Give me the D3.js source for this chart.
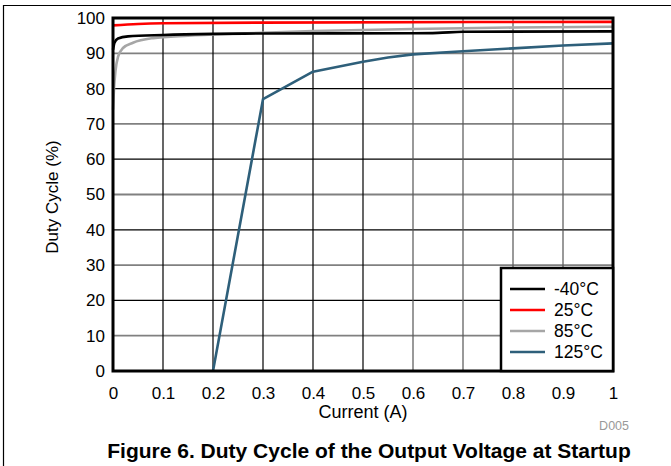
<!DOCTYPE html>
<html><head><meta charset="utf-8">
<script src="https://cdn.jsdelivr.net/npm/d3@7"></script>
<style>body{margin:0;background:#fff}svg{display:block;font-family:"Liberation Sans",Arial,sans-serif}</style>
</head><body>
<svg id="c" width="671" height="466"></svg>
<script>
const xTicks = [0,0.1,0.2,0.3,0.4,0.5,0.6,0.7,0.8,0.9,1];
const yTicks = [0,10,20,30,40,50,60,70,80,90,100];
const seriesNames = ["-40°C","25°C","85°C","125°C"];
const seriesColors = ["#000000","#ff0000","#a6a6a6","#2e5f7a"];
const sM40 = [[0,91],[0.003,93],[0.01,94.2],[0.03,94.8],[0.1,95.2],[0.2,95.5],[0.3,95.6],[0.6,95.7],[0.65,95.8],[0.7,96.1],[1,96.2]];
const s25 = [[0,97.9],[0.05,98.3],[0.1,98.5],[0.3,98.7],[1,98.9]];
const s85 = [[0,74],[0.002,80],[0.005,85],[0.01,89],[0.02,91.5],[0.04,93],[0.08,94.3],[0.15,95.0],[0.25,95.6],[0.4,96.3],[0.6,96.9],[0.8,97.3],[1,97.5]];
const s125 = [[0.2,0],[0.3,77],[0.4,84.8],[0.5,87.6],[0.55,88.8],[0.6,89.7],[0.7,90.6],[0.8,91.4],[0.9,92.2],[1,92.8]];
const allSeries = [sM40,s25,s85,s125];

const svg = d3.select("#c");
const x = d3.scaleLinear().domain([0,1]).range([113,613]);
const y = d3.scaleLinear().domain([0,100]).range([371,18]);
const FF = "Liberation Sans, Arial, sans-serif";

// outer frame lines
svg.append("line").attr("x1",3).attr("x2",671).attr("y1",5.5).attr("y2",5.5).attr("stroke","#000").attr("stroke-width",1.2);
svg.append("line").attr("x1",3.5).attr("x2",3.5).attr("y1",5).attr("y2",466).attr("stroke","#000").attr("stroke-width",1.2);

// grid
svg.append("g").selectAll("line").data(yTicks.slice(1,-1)).join("line")
  .attr("x1",113).attr("x2",613).attr("y1",d=>y(d)).attr("y2",d=>y(d))
  .attr("stroke",d=>(d/10)%2===1?"#808080":"#000").attr("stroke-width",d=>(d/10)%2===1?1.8:1.2);
svg.append("g").selectAll("line").data(xTicks.slice(1,-1)).join("line")
  .attr("y1",18).attr("y2",371).attr("x1",d=>x(d)).attr("x2",d=>x(d))
  .attr("stroke",d=>d>0.55?"#555":"#000").attr("stroke-width",1.2);

// axes labels via d3 axes
const xa = svg.append("g").attr("transform","translate(0,371)")
  .call(d3.axisBottom(x).tickValues(xTicks).tickSize(0).tickPadding(16).tickFormat(d=>d3.format("")(d)));
xa.select(".domain").remove();
xa.selectAll("text").attr("font-size",17).attr("fill","#000").attr("font-family",FF);
const ya = svg.append("g").attr("transform","translate(113,0)")
  .call(d3.axisLeft(y).tickValues(yTicks).tickSize(0).tickPadding(8));
ya.select(".domain").remove();
ya.selectAll("text").attr("font-size",17).attr("fill","#000").attr("font-family",FF);

// lines
const lineSmooth = d3.line().x(d=>x(d[0])).y(d=>y(d[1])).curve(d3.curveMonotoneX);
const lineStraight = d3.line().x(d=>x(d[0])).y(d=>y(d[1]));
const order = [3,2,0,1];
order.forEach(i=>{
  svg.append("path").datum(allSeries[i]).attr("d",i===3?lineStraight:lineSmooth).attr("fill","none")
    .attr("stroke",seriesColors[i]).attr("stroke-width",2.6).attr("stroke-linejoin","round");
});

// plot border
svg.append("rect").attr("x",113).attr("y",18).attr("width",500).attr("height",353)
  .attr("fill","none").attr("stroke","#000").attr("stroke-width",3);

// legend
const lg = svg.append("g");
lg.append("rect").attr("x",501).attr("y",268).attr("width",112).attr("height",103)
  .attr("fill","#fff").attr("stroke","#000").attr("stroke-width",2.5);
seriesNames.forEach((n,i)=>{
  const yy = 289 + i*21;
  lg.append("line").attr("x1",510).attr("x2",545).attr("y1",yy).attr("y2",yy)
    .attr("stroke",seriesColors[i]).attr("stroke-width",2.6);
  lg.append("text").attr("x",554).attr("y",yy+6).attr("font-size",17.5).text(n);
});

// titles
svg.append("text").attr("x",363).attr("y",418).attr("text-anchor","middle").attr("font-size",18).text("Current (A)");
svg.append("text").attr("transform","translate(58,197) rotate(-90)").attr("text-anchor","middle").attr("font-size",17).text("Duty Cycle (%)");
svg.append("text").attr("x",629).attr("y",430).attr("text-anchor","end").attr("font-size",12.5).attr("fill","#999").text("D005");
svg.append("text").attr("x",369).attr("y",458).attr("text-anchor","middle").attr("font-size",21).attr("font-weight","bold").text("Figure 6. Duty Cycle of the Output Voltage at Startup");
</script>
</body></html>
